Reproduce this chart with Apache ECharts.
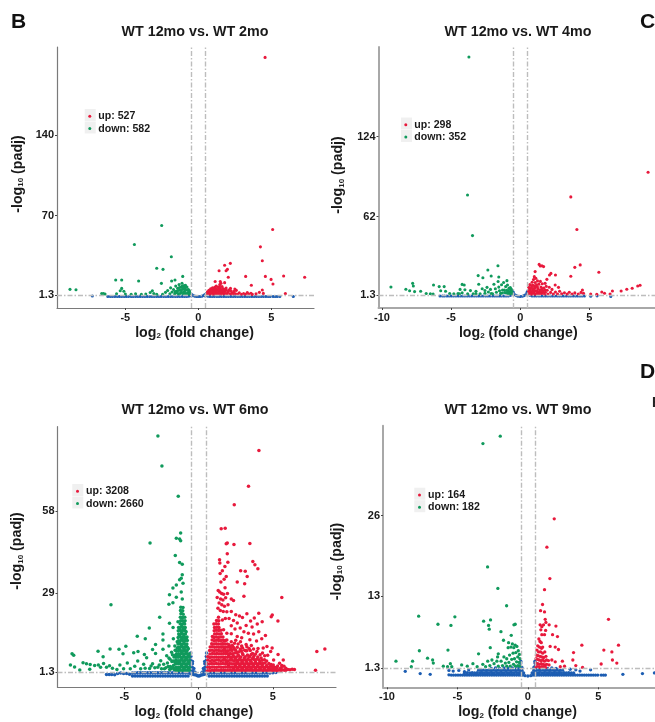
<!DOCTYPE html>
<html><head><meta charset="utf-8">
<style>html,body{margin:0;padding:0;background:#fff}#c{width:655px;height:722px}</style>
<script src="https://cdn.jsdelivr.net/npm/echarts@6/dist/echarts.min.js"></script>
</head><body><div id="c"></div>
<script>
// Panel titles, tick labels and legend counts
const titles = ['WT 12mo vs. WT 2mo','WT 12mo vs. WT 4mo','WT 12mo vs. WT 6mo','WT 12mo vs. WT 9mo'];
const yTicksB = [1.3,70,140], yTicksC = [1.3,62,124], yTicksD = [1.3,29,58], yTicksE = [1.3,13,26];
const xTicksB = [-5,0,5], xTicksC = [-10,-5,0,5], xTicksD = [-5,0,5], xTicksE = [-10,-5,0,5];
const legendB = ['up: 527','down: 582'], legendC = ['up: 298','down: 352'], legendD = ['up: 3208','down: 2660'], legendE = ['up: 164','down: 182'];
const foldCut = [-0.5,0.5], padjCut = 1.3;

// Panel B
const bUp = [[4.57,207],[5.09,58],[4.25,43],[4.38,31],[2.19,28.7],[1.8,27],[1.99,23.5],[1.9,22.3],[1.42,22.3],[3.24,17.4],[4.59,17.4],[4.98,14.8],[5.84,17.7],[7.28,16.6],[5.11,10.8],[3.63,9.7],[2.05,16.6],[5.96,2.5],[4.38,5.6],[4.18,3.6],[4.45,2.7],[1.15,13],[1.5,13],[1.55,11.5],[1.8,12],[.6,2.1],[.68,3.4],[.75,1.9],[.8,4.6],[.86,2.8],[.92,5.7],[.95,1.8],[1,3.7],[1.02,6.6],[1.08,2.4],[1.12,7.9],[1.15,4.9],[1.2,1.9],[1.22,9.1],[1.27,3.3],[1.3,6.1],[1.35,8.2],[1.38,2.2],[1.42,4.4],[1.47,10.3],[1.5,6.9],[1.53,2.9],[1.58,5.3],[1.62,8.6],[1.66,1.9],[1.7,3.9],[1.75,6.2],[1.8,2.6],[1.84,4.8],[1.9,7.4],[1.95,2.1],[2,3.5],[2.08,5.6],[2.15,2.3],[2.2,7],[2.3,3.2],[2.35,1.9],[2.45,4.4],[2.55,2.4],[2.6,5.3],[2.7,1.9],[2.8,3.3],[2.95,2],[3.1,2.5],[3.25,1.9],[3.35,3.4],[3.45,2.1],[3.6,2.8],[3.7,1.8],[3.95,2.3],
[.62,4],[.72,5.4],[.78,2.6],[.84,6.6],[.9,3.8],[.97,7.5],[1.05,4.7],[1.1,6],[1.13,3.5],[1.18,7.2],[1.25,5],[1.32,2.8],[1.4,6.3],[1.45,8.4],[1.55,4.2],[1.6,2.2],[1.68,6.9],[1.72,5],[1.78,3.4],[1.88,5.8],[2.05,4.6],[2.25,4.8],[2.4,2.8],[2.5,6.4]];
const bDown = [[-2.51,61.5],[-4.38,45],[-1.85,34.4],[-2.85,24.4],[-2.42,23.5],[-1.07,17.4],[-5.66,14.3],[-5.25,14.3],[-4.09,13.4],[-1.6,14.3],[-1.83,13.4],[-2.53,11.4],[-5.25,7],[-5.35,5],[-5.6,2.4],[-5.1,4.6],[-5,2.2],[-8.79,6.2],[-8.38,5.9],[-6.62,2.5],[-6.39,2.2],[-6.5,2.6],[-4.6,2],[-4.3,2.4],[-3.9,1.9],[-3.6,2.2],[-3.3,3.5],[-3.15,5],[-3.05,2.5],[-2.85,2],[-2.45,1.9],[-2.25,3.6],[-2.1,5.2],[-1.95,2.4],[-1.9,7.5],[-1.8,3.9],[-1.7,6.1],[-1.62,2.1],[-1.55,9],[-1.5,4.6],[-1.42,7.1],[-1.38,2.3],[-1.32,10.3],[-1.28,5.4],[-1.22,3],[-1.18,8.1],[-1.12,11.5],[-1.08,6.2],[-1.02,2.1],[-.98,9.4],[-.95,4.2],[-.9,7.5],[-.85,2.6],[-.82,5.6],[-.78,8.2],[-.72,3.5],[-.68,6],[-.64,2],[-.6,4.1],[-.57,2.6],
[-1.6,4.2],[-1.45,3.2],[-1.4,5.2],[-1.3,7.8],[-1.25,2.2],[-1.2,5.6],[-1.15,3.8],[-1.1,9],[-1.05,7.6],[-1,3.2],[-.92,5.8],[-.88,9.6],[-.75,5.8],[-.7,2.6],[-.62,5.2]];
const bNs = [[-7.26,.4],[6.5,0],[-6.2,0],[-6.03,0],[-5.88,0],[-5.72,0],[-5.55,0],[-5.4,0],[-5.25,0],[-5.08,0],[-4.93,0],[-4.78,0],[-4.6,0],[-4.46,0],[-4.3,0],[-4.14,0],[-3.98,0],[-3.82,0],[-3.66,0],[-3.5,0],[-3.34,0],[-3.18,0],[-3.02,0],[-2.86,0],[-2.7,0],[-2.55,0],[-2.38,0],[-2.22,0],[-2.06,0],[-1.9,0],[-1.75,0],[-1.58,0],[-1.43,0],[-1.27,0],[-1.1,0],[-.95,0],[-.8,0],[-.66,.3],[-.55,1.2],[-.48,.5],[-.56,2.6],[-.44,1.7],[-.36,.9],[-.25,.3],[-.12,0],[0,0],[.12,0],[.25,.3],[.36,.9],[.44,1.7],[.55,2.7],[.47,.5],[.56,1.2],[.66,.3],[.8,0],[.95,0],[1.1,0],[1.27,0],[1.42,0],[1.58,0],[1.74,0],[1.9,0],[2.06,0],[2.22,0],[2.38,0],[2.54,0],[2.7,0],[2.86,0],[3.02,0],[3.18,0],[3.34,0],[3.5,0],[3.66,0],[3.82,0],[3.98,0],[4.14,0],[4.3,0],[4.46,0],[4.62,0],[4.78,0],[4.92,0],[5.12,0],[5.26,0],[5.4,0],[5.58,0]];

// Panel C
const cUp = [[9.25,96.4],[3.66,77.3],[4.1,52],[4.34,24.6],[3.95,22.7],[5.69,18.9],[3.66,15.8],[1.37,25],[1.57,24],[1.69,23.3],[1.45,23.8],[2.22,18],[2.55,16.8],[2.12,16.8],[1.08,19.4],[1.93,13.4],[1.8,10.3],[2.53,9],[2.77,7.2],[8.67,8.8],[8.5,8.3],[8.1,6.5],[7.71,5.7],[7.3,4.4],[6.67,4.4],[6.5,2.1],[6.1,2.6],[5.9,3.6],[5.54,1.8],[5.1,2.1],[4.5,5.2],[4.58,2.6],[.57,2],[.6,4.6],[.62,7.2],[.66,2.8],[.7,9.3],[.72,5.4],[.76,1.9],[.8,3.5],[.82,7.5],[.86,11.2],[.9,5],[.93,1.9],[.96,13.2],[.98,8.6],[1,3.1],[1.02,15.5],[1.05,6.5],[1.08,11],[1.1,1.9],[1.13,14.2],[1.15,4.3],[1.18,9.2],[1.22,2.5],[1.25,12.2],[1.28,6.2],[1.32,3.4],[1.35,9.7],[1.4,1.9],[1.42,5.2],[1.46,11.8],[1.5,7.4],[1.55,2.5],[1.6,10],[1.63,4.5],[1.7,6.6],[1.75,1.9],[1.82,3.4],[1.88,8],[1.95,5],[2,2.1],[2.1,7.3],[2.2,3.3],[2.3,5.6],[2.4,2],[2.55,3.6],[2.7,2.1],[2.85,4.2],[3,2.2],[3.2,3],[3.4,2],[3.55,3.4],[3.75,2.1],[3.95,2.9],[4.2,2],[4.4,3.3],
[.64,3.6],[.68,5.6],[.74,3.2],[.78,6.6],[.84,2.4],[.88,8.8],[.92,3.6],[.95,6.2],[1.03,4.7],[1.1,7.8],[1.2,4.4],[1.24,7.6],[1.3,2.4],[1.38,4],[1.45,2.8],[1.52,4.6],[1.58,6.2],[1.68,3.4],[1.8,5.2]];
const cDown = [[-3.71,185.8],[-3.81,78.8],[-3.45,47.3],[-1.61,24],[-2.34,20.7],[-2.1,16],[-1.55,15.2],[-3.04,16.3],[-2.7,14.7],[-.96,12.4],[-9.35,7.5],[-7.78,10.3],[-7.73,8.3],[-8.27,5.7],[-8,4.6],[-7.64,3.9],[-7.2,4.2],[-6.8,2.4],[-6.5,2.2],[-6.27,9],[-6.3,2.1],[-5.86,7.8],[-5.5,7.8],[-5.75,4.6],[-5.4,4.2],[-5.1,2.4],[-4.8,2.2],[-4.5,2.4],[-4.35,5.6],[-4.2,9.5],[-4.05,9],[-4,5.3],[-3.8,2.3],[-3.6,4.7],[-3.4,2.2],[-3,9.6],[-3.2,4.1],[-2.9,2.2],[-2.75,6.1],[-2.55,2.6],[-2.4,7.2],[-2.3,3.6],[-2.15,5.6],[-2,2.2],[-1.9,9.6],[-1.8,6.1],[-1.72,3.4],[-1.6,11.7],[-1.55,7.4],[-1.42,2.5],[-1.35,9.2],[-1.28,5.2],[-1.2,11],[-1.12,3.2],[-1.05,7.8],[-.98,5],[-.92,9],[-.88,2.5],[-.82,6.4],[-.75,3.6],[-.7,5.2],[-.63,2.2],[-.6,4],
[-1.15,5.2],[-1.02,3],[-.9,4.4],[-.8,2.2],[-.72,7],[-.65,5.8],[-1.3,2.8],[-1.5,4.6],[-2.1,2.4],[-2.55,4.8],[-3.2,2.2],[-4.2,3],[-4.4,2.3]];
const cNs = [[6.55,.2],[5.1,.4],[5.56,.6],[-5.8,.5],[-5.62,.5],[-5.48,.5],[-5.3,.5],[-5.14,.5],[-4.98,.5],[-4.82,.5],[-4.65,.5],[-4.48,.5],[-4.32,.5],[-4.16,.5],[-4,.5],[-3.83,.5],[-3.66,.5],[-3.5,.5],[-3.33,.5],[-3.16,.5],[-3,.5],[-2.84,.5],[-2.68,.5],[-2.5,.5],[-2.34,.5],[-2.18,.5],[-2,.5],[-1.84,.5],[-1.68,.5],[-1.52,.5],[-1.36,.5],[-1.18,.5],[-1.02,.5],[-.86,.5],[-.7,1],[-.58,5],[-.58,2.5],[-.5,3.5],[-.46,1.6],[-.38,1.5],[-.28,.8],[-.16,.3],[0,.1],[.16,.3],[.28,.8],[.38,1.5],[.46,1.6],[.5,3.5],[.58,5],[.58,2.5],[.7,1],[.86,.5],[1.02,.5],[1.18,.5],[1.36,.5],[1.52,.5],[1.68,.5],[1.84,.5],[2,.5],[2.18,.5],[2.34,.5],[2.5,.5],[2.68,.5],[2.84,.5],[3,.5],[3.16,.5],[3.33,.5],[3.5,.5],[3.66,.5],[3.83,.5],[4,.5],[4.16,.5],[4.32,.5],[4.48,.5],[4.65,.5]];

// Panel D
const dUp = [[4.06,79.4],[3.36,66.8],[2.4,60.3],[1.52,51.8],[1.79,52],[1.93,46.8],[1.86,46.5],[2.38,46.3],[3.45,46.6],[1.93,43],[1.41,40.9],[1.43,39.7],[1.97,40],[1.77,38.5],[3.65,40.3],[3.79,39.1],[3.99,37.7],[2.83,37],[3.14,36.8],[3.27,35],[2.6,33],[3.1,32.4],[1.86,35],[5.6,27.6],[3.05,28],[4.96,21.4],[4.89,20.8],[5.34,19.3],[8.5,9.4],[7.96,8.5],[7.87,1.9],[1.45,36],[1.6,37],[1.5,33],[1.72,34],[1.78,31],[1.32,30],[1.42,29.5],[1.55,29],[1.68,28.7],[1.25,27.6],[1.48,27],[1.64,26.7],[1.82,27.5],[1.94,29],[2.2,27],[2.35,26.5],[1.38,25.6],[1.56,25],[1.74,24.5],[1.98,25],[2.2,22.6],[2.5,21.5],[2.75,21],[1.3,23.8],[1.46,23],[1.66,22.6],[1.9,22.5],[2.35,19.5],[2.6,18.6],[2.95,20.5],[3.25,21.8],[3.5,19.3],[3.75,20.3],[4.05,22],[4.28,19],[3.95,18.2],[3.6,17.2],[3.2,17.7],[2.8,16.8],[2.05,20.2],[1.8,20.2],[1.6,19.6],[2.2,17.6],[2.45,16.5],[3.05,15.5],[3.35,15],[3.7,14.7],[4.05,15.5],[4.5,14.2],[4.25,13],[3.9,12.2],[3.45,12.7],[2.9,13.4],[2.6,13.8],[2.2,14.8],[1.9,15],[1.68,16.2],[4.95,9.8],[4.85,8.5],[5.35,7.5],[5.7,5.5],[5.45,4.4],[5.05,5.5],[4.6,10.3],[4.35,9.8],[4.65,7.2],
[.58,1.8],[.6,3],[.57,4.2],[.61,5.5],[.6,6.8],[.74,1.7],[.76,2.9],[.73,4.1],[.77,5.2],[.75,6.4],[.76,7.6],[.74,8.9],[.78,10.1],[.9,1.9],[.92,3.1],[.88,4.3],[.91,5.4],[.89,6.6],[.93,7.8],[.9,9],[.92,10.2],[.88,11.3],[.91,12.6],[.93,13.8],[1.05,1.8],[1.07,3],[1.03,4.2],[1.06,5.3],[1.04,6.5],[1.08,7.7],[1.05,8.8],[1.07,10],[1.03,11.2],[1.06,12.3],[1.04,13.5],[1.08,14.7],[1.05,15.8],[1.07,17],[1.03,18.2],[1.2,1.9],[1.22,3],[1.18,4.3],[1.21,5.5],[1.19,6.6],[1.23,7.8],[1.2,9],[1.22,10.1],[1.18,11.3],[1.21,12.5],[1.19,13.6],[1.23,14.8],[1.2,16],[1.22,17.1],[1.18,18.3],[1.21,19.5],[1.35,1.8],[1.37,3.1],[1.33,4.2],[1.36,5.4],[1.34,6.5],[1.38,7.7],[1.35,8.9],[1.37,10],[1.33,11.2],[1.36,12.4],[1.34,13.5],[1.38,14.7],[1.35,15.9],[1.37,17],[1.33,18.2],[1.36,19.4],[1.34,20.6],[1.5,1.9],[1.52,3],[1.48,4.2],[1.51,5.3],[1.49,6.5],[1.53,7.7],[1.5,8.8],[1.52,10],[1.48,11.2],[1.51,12.4],[1.49,13.6],[1.53,14.8],[1.5,16],[1.65,1.8],[1.67,3],[1.63,4.3],[1.66,5.4],[1.64,6.6],[1.68,7.8],[1.65,8.9],[1.67,10.1],[1.63,11.3],[1.66,12.5],[1.64,13.6],[1.8,1.9],[1.82,3.1],[1.78,4.2],[1.81,5.4],[1.79,6.5],[1.83,7.7],[1.8,8.9],[1.82,10],[1.78,11.2],[1.81,12.4],[1.95,1.8],[1.97,3],[1.93,4.2],[1.96,5.3],[1.94,6.5],[1.98,7.7],[1.95,8.8],[1.97,10],[1.93,11.2],[2.1,1.9],[2.12,3],[2.08,4.3],[2.11,5.4],[2.09,6.6],[2.13,7.8],[2.1,9],[2.12,10.2],[2.25,1.8],[2.27,3.1],[2.23,4.2],[2.26,5.4],[2.24,6.5],[2.28,7.7],[2.25,8.9],[2.27,10.6],[2.4,1.9],[2.42,3],[2.38,4.2],[2.41,5.3],[2.39,6.6],[2.43,8],[2.4,9.5],[2.42,11.4],[2.55,1.8],[2.57,3],[2.53,4.3],[2.56,5.4],[2.54,6.6],[2.58,8.2],[2.6,10],[2.7,1.9],[2.72,3.1],[2.68,4.2],[2.71,5.6],[2.69,7],[2.73,8.4],[2.85,1.8],[2.87,3],[2.83,4.2],[2.86,5.4],[2.84,6.6],[2.88,8.7],[2.9,10.5],[3,1.9],[3.02,3],[2.98,4.3],[3.01,5.5],[2.99,7.4],[3.15,1.8],[3.17,3.1],[3.13,4.2],[3.16,5.4],[3.14,6.7],[3.18,8.8],[3.2,11],[3.3,1.9],[3.32,3],[3.28,4.3],[3.31,5.8],[3.29,7.3],[3.45,1.8],[3.47,3],[3.43,4.2],[3.46,5.4],[3.44,6.8],[3.48,8.9],[3.6,1.9],[3.62,3.1],[3.58,4.3],[3.61,6],[3.63,7.8],[3.75,1.8],[3.77,3],[3.73,4.2],[3.76,5.6],[3.74,7],[3.9,1.9],[3.92,3.1],[3.88,4.3],[3.91,5.8],[3.93,8.5],[4.05,1.8],[4.07,3],[4.03,4.2],[4.06,5.6],[4.2,1.9],[4.22,3],[4.18,4.3],[4.21,6.2],[4.35,1.8],[4.37,3],[4.33,4.3],[4.5,1.9],[4.52,3.1],[4.48,4.5],[4.65,1.8],[4.67,3],[4.8,1.9],[4.82,3.2],[4.95,1.8],[4.97,3],[5.1,1.9],[5.12,3],[5.25,1.8],[5.27,2.8],[5.4,1.9],[5.55,1.8],[5.57,2.8],[5.7,2],[5.85,1.8],[5.87,2.6],[6,2.2],[6.15,2.1],[6.3,2.3],[6.45,2.2],[5,2.6],[5.6,3.6],[5.75,3.3],
[1.58,11.2],[1.72,6.2],[1.72,9.4],[1.74,12.2],[1.88,4.8],[1.87,8.3],[1.9,12.6],[2.02,3.6],[2.03,7],[2.05,10.9],[2.18,5.9],[2.17,9.6],[2.2,12],[2.33,2.4],[2.33,7],[2.34,10],[2.48,3.6],[2.47,6],[2.5,9],[2.5,12.5],[2.63,2.4],[2.64,4.9],[2.65,7.4],[2.66,11.2],[2.78,3.6],[2.78,6.3],[2.8,9.4],[2.82,12],[2.93,2.5],[2.94,4.9],[2.95,7.8],[2.96,9.8],[3.08,3.6],[3.08,6.2],[3.1,9],[3.24,2.5],[3.24,4.9],[3.25,8.8],[3.25,10.2],[3.38,3.6],[3.38,6.6],[3.4,9.6],[3.53,2.5],[3.53,5.1],[3.54,7.5],[3.55,10.6],[3.68,3.6],[3.68,6.4],[3.7,9.4],[3.83,2.4],[3.83,4.9],[3.84,7.6],[3.98,3.6],[3.98,6.6],[4,9.6],[4.13,2.5],[4.13,5],[4.14,7.4],[4.28,3.6],[4.28,5.4],[4.3,8],[4.43,2.4],[4.43,5.6],[4.45,7],[4.58,3.6],[4.58,5.2],[4.72,2.5],[4.73,4.3],[4.88,2.6],[4.88,3.9],[5.03,3.8],[5.18,2.6],[5.32,3.4],[5.48,2.5]];
const dDown = [[-2.74,84.5],[-2.47,73.9],[-1.37,63.3],[-1.21,50.3],[-1.5,48.5],[-1.28,48.2],[-1.21,47.6],[-3.27,46.8],[-1.57,42.4],[-1.28,39.9],[-1.1,39.3],[-1.1,35.6],[-1.17,34.4],[-1.28,33.8],[-1.05,32.6],[-1.5,32],[-1.73,30.9],[-1.96,28.5],[-1.17,29.5],[-1.5,27.7],[-1.1,27],[-1.73,25.7],[-2,25.2],[-5.9,25],[-2.62,20.6],[-1.96,18.5],[-1.39,19],[-3.32,16.8],[-4.13,13.9],[-3.59,13],[-2.4,14.7],[-2.4,12.6],[-1.72,17],[-4.9,10.4],[-6.77,8.6],[-5.96,9.4],[-5.36,9.3],[-5.09,7.7],[-4.37,8.1],[-4.08,8.5],[-6.43,6.7],[-8.52,7.7],[-8.41,7.2],[-8.63,3.8],[-7.78,4.6],[-8,2],[-7.33,2.3],[-8.35,3.1],[-7.55,4.2],[-7.3,3.9],[-7,3.6],[-6.75,3.8],[-6.6,3],[-6.4,4.3],[-6.2,3],[-6,3.5],[-5.8,2.6],[-5.5,2.2],[-5.3,3.8],[-5.05,2.4],[-4.8,4.5],[-4.6,2.4],[-4.3,3.3],[-4.1,5.2],[-3.9,2.4],[-3.7,4],[-3.5,6.3],[-3.3,2.5],[-3.1,4.2],[-2.9,7.8],[-2.75,3],[-2.55,5.3],[-2.4,9.3],[-2.3,2.4],[-2.1,4.5],[-2.15,7],[-2,10.5],[-2.9,11],[-3.1,9.2],[-3.65,7.5],[-1.85,2.4],[-1.8,5],[-1.82,8.3],[-1.7,13],[-1.65,2.2],[-1.68,3.7],[-1.63,5.2],[-1.66,6.6],[-1.6,10.5],[-1.52,1.9],[-1.5,3],[-1.54,4.2],[-1.51,5.4],[-1.53,6.5],[-1.49,7.7],[-1.52,8.9],[-1.37,1.8],[-1.35,3],[-1.39,4.2],[-1.36,5.3],[-1.38,6.5],[-1.34,7.7],[-1.37,8.8],[-1.35,10],[-1.39,11.2],[-1.36,12.3],[-1.38,13.5],[-1.34,14.7],[-1.37,15.8],[-1.35,17],[-1.22,1.9],[-1.2,3.1],[-1.24,4.2],[-1.21,5.4],[-1.23,6.6],[-1.19,7.7],[-1.22,8.9],[-1.2,10.1],[-1.24,11.2],[-1.21,12.4],[-1.23,13.6],[-1.19,14.7],[-1.22,15.9],[-1.2,17.1],[-1.24,18.3],[-1.21,19.4],[-1.23,20.6],[-1.19,21.8],[-1.22,23],[-1.2,24.1],[-1.07,1.8],[-1.05,3],[-1.09,4.2],[-1.06,5.3],[-1.08,6.5],[-1.04,7.7],[-1.07,8.8],[-1.05,10],[-1.09,11.2],[-1.06,12.4],[-1.08,13.5],[-1.04,14.7],[-1.07,15.9],[-1.05,17],[-1.09,18.2],[-1.06,19.4],[-1.08,20.5],[-1.04,21.7],[-1.07,22.9],[-1.05,24],[-.92,1.9],[-.9,3],[-.94,4.2],[-.91,5.4],[-.93,6.5],[-.89,7.7],[-.92,8.9],[-.9,10],[-.94,11.2],[-.91,12.4],[-.93,13.5],[-.89,14.7],[-.92,15.9],[-.9,17],[-.94,18.2],[-.91,19.4],[-.93,20.6],[-.77,1.8],[-.75,3.1],[-.79,4.2],[-.76,5.4],[-.78,6.5],[-.74,7.7],[-.77,8.9],[-.75,10],[-.79,11.2],[-.76,12.4],[-.78,13.6],[-.63,1.9],[-.61,3],[-.65,4.2],[-.62,5.3],[-.64,6.5],[-.6,7.6],
[-1.29,2.5],[-1.28,4.8],[-1.3,7.2],[-1.29,9.5],[-1.3,11.8],[-1.29,14.2],[-1.28,16.5],[-1.14,3.6],[-1.13,6],[-1.15,8.4],[-1.14,10.8],[-1.13,13.2],[-1.15,15.5],[-1.14,18],[-1.13,20.3],[-1.15,22.6],[-.99,2.5],[-.98,5],[-1,7.3],[-.99,9.6],[-.98,12],[-1,14.3],[-.99,16.6],[-.98,19],[-.84,3.6],[-.83,6],[-.85,8.4],[-.84,10.7],[-.83,13],[-.84,15.5],[-.69,2.5],[-.68,4.9],[-.7,7.2],[-.69,9.5],[-1.44,2.5],[-1.43,4.8],[-1.45,7.2],[-1.44,9.8],[-1.44,12],[-1.58,2.5],[-1.58,4.7],[-1.57,7.2],[-1.58,9],[-1.72,2.9],[-1.74,5.2],[-1.76,7.4],[-1.9,3.2],[-1.92,5.8],[-1.95,2.2],[-2.05,3.2],[-2,6.2],[-2.2,2.8],[-2.35,4],[-2.5,2.4],[-2.65,3.8],[-2.95,2.8],[-3.2,3.4],[-3.6,2.6]];
const dNs = [[-6.2,.4],[-6.02,.4],[-5.85,.4],[-5.65,.3],[-5.45,.8],[-5.25,.9],[-5.05,.8],[-4.85,.8],[-4.65,.5],[-4.45,.9],[-4.45,-.1],[-4.28,.9],[-4.28,-.1],[-4.11,1],[-4.11,-.1],[-3.94,1],[-3.94,-.1],[-3.77,1],[-3.77,-.1],[-3.6,1],[-3.6,-.1],[-3.43,1],[-3.43,-.1],[-3.26,1],[-3.26,-.1],[-3.09,1],[-3.09,-.1],[-2.92,1],[-2.92,-.1],[-2.75,1],[-2.75,-.1],[-2.58,1],[-2.58,-.1],[-2.41,1],[-2.41,-.1],[-2.24,1],[-2.24,-.1],[-2.07,1],[-2.07,-.1],[-1.9,1],[-1.9,-.1],[-1.73,1],[-1.73,-.1],[-1.56,1],[-1.56,-.1],[-1.39,1],[-1.39,-.1],[-1.22,1],[-1.22,-.1],[-1.05,1],[-1.05,-.1],[-.88,1],[-.88,-.1],[-.71,1],[-.71,-.1],[-.55,.8],[-.54,2],[-.55,3.2],[-.53,4.4],[-.54,5.6],[-.52,6.8],[-.53,8],[-.44,.6],[-.44,1.8],[-.43,3],[-.42,4.2],[-.41,5],[-.34,.4],[-.33,1.4],[-.32,2.5],[-.25,.3],[-.24,1.2],[-.16,.2],[-.08,0],[0,-.1],[.08,0],[.16,.2],[.25,.3],[.24,1.2],[.34,.4],[.33,1.4],[.32,2.5],[.44,.6],[.44,1.8],[.43,3],[.42,4.2],[.41,5],[.55,.8],[.54,2],[.55,3.2],[.53,4.4],[.54,5.6],[.52,6.8],[.53,8],[.71,1],[.71,-.1],[.88,1],[.88,-.1],[1.05,1],[1.05,-.1],[1.22,1],[1.22,-.1],[1.39,1],[1.39,-.1],[1.56,1],[1.56,-.1],[1.73,1],[1.73,-.1],[1.9,1],[1.9,-.1],[2.07,1],[2.07,-.1],[2.24,1],[2.24,-.1],[2.41,1],[2.41,-.1],[2.58,1],[2.58,-.1],[2.75,1],[2.75,-.1],[2.92,1],[2.92,-.1],[3.09,1],[3.09,-.1],[3.26,1],[3.26,-.1],[3.43,1],[3.43,-.1],[3.6,1],[3.6,-.1],[3.77,1],[3.77,-.1],[3.94,1],[3.94,-.1],[4.11,1],[4.11,-.1],[4.28,1],[4.28,-.1],[4.45,1],[4.45,-.1],[4.62,1],[4.62,-.1],[4.8,.9],[5,1],[5.2,1.1]];

// Panel E
const eUp = [[1.87,25.5],[1.35,20.9],[1.56,15.8],[1.18,14],[1.04,11.6],[.9,10.6],[1.18,10.4],[5.72,9.2],[1.23,9.2],[1.28,8.7],[.87,8.3],[1.11,8.3],[1.51,8.3],[1.99,8.1],[.99,8],[2.1,6.4],[1.75,6.7],[1.18,6.7],[.99,6.7],[1.26,7.4],[.92,7.5],[3.83,5],[6.43,5],[5.39,4.2],[5.96,3.9],[3.24,3.8],[3.19,2.6],[6,2.6],[6.31,2.1],[5.2,1.95],[3.4,1.7],[3.88,1.4],[1.58,4.8],[1.94,4.7],[2.17,4.3],[1.7,2.6],[1.94,2.3],[2.45,2.4],[2.3,1.5],[2.6,1.6],[.78,6],[.86,5.6],[.95,5.4],[.7,4.9],[.82,4.7],[.97,4.5],[1.05,4.7],[.64,4.2],[.76,3.9],[.9,3.9],[1.05,3.7],[1.2,3.9],[.6,3.4],[.72,3.3],[.86,3.2],[.98,3.1],[1.12,3],[1.28,3.2],[.58,2.8],[.68,2.7],[.8,2.6],[.93,2.5],[1.05,2.6],[1.18,2.4],[1.32,2.6],[1.46,2.5],[.58,2.1],[.7,2],[.82,1.9],[.95,2],[1.08,1.9],[1.2,1.8],[1.33,1.9],[1.5,1.8],[.58,1.5],[.7,1.5],[.84,1.4],[.98,1.5],[1.12,1.4],[1.25,1.4]];
const eDown = [[-1.96,38.9],[-3.19,37.7],[-2.86,17.7],[-2.13,14.2],[-1.51,11.4],[-7.75,9.7],[-5.18,9.6],[-6.38,8.4],[-5.46,8.2],[-3.14,8.9],[-2.65,9.1],[-2.79,8.2],[-2.74,7.6],[-1.91,7.2],[-.99,8.3],[-.9,8.4],[-1.18,6.6],[-1.73,5.8],[-1.37,5.4],[-5.67,4.2],[-7.7,4.1],[-7.12,2.9],[-6.76,2.6],[-6.71,2.1],[-8.18,2.4],[-9.36,2.4],[-8.27,1.5],[-3.5,3.6],[-2.67,4.6],[-6,1.6],[-5.7,1.5],[-5.5,2],[-5.4,1.5],[-4.7,1.8],[-4.3,1.6],[-3.9,2],[-3.6,1.5],[-3.2,1.9],[-3,1.5],[-2.85,2.4],[-2.7,1.7],[-2.55,2.6],[-2.4,2],[-2.2,2.4],[-2.1,1.6],[-2.1,3.6],[-2.15,3.1],[-1.9,2.4],[-1.8,1.7],[-1.7,3.1],[-1.6,2.1],[-1.5,1.6],[-1.5,2.8],[-1.4,4.6],[-1.3,3.4],[-1.35,2.2],[-1.25,1.6],[-1.2,4.7],[-1.15,2.7],[-1.1,5.2],[-1.05,3.7],[-1.02,1.9],[-1,4.6],[-.95,2.8],[-.9,5],[-.88,1.6],[-.85,3.8],[-.8,2.3],[-.78,4.8],[-.72,3.1],[-.7,1.7],[-.68,4.1],[-.62,2.2],[-.6,3.5],[-.58,1.6],[-.57,2.8]];
const eNs = [[-8.7,.76],[-7.64,.4],[-6.93,.27],[6.74,.27],[8.13,.4],[8.98,.5],[-5.6,.9],[-5.3,.8],[-4.9,.9],[-4.5,.7],[-4.2,1],[4.45,1],[3.7,.8],[3.4,1],[3,1.1],[-5.6,.2],[-5.44,.15],[-5.28,.15],[-5.12,.15],[-4.96,.15],[-4.8,.15],[-4.64,.15],[-4.48,.15],[-4.32,.15],[-4.16,.15],[-4,.15],[-3.84,.15],[-3.68,.15],[-3.52,.15],[-3.36,.15],[-3.2,.15],[-3.04,.15],[-2.88,.15],[-2.72,.15],[-2.56,.15],[-2.4,.15],[-2.24,.15],[-2.08,.15],[-1.92,.15],[-1.76,.15],[-1.6,.15],[-1.44,.15],[-1.28,.15],[-1.12,.15],[-.96,.15],[-.8,.15],[-.64,.15],[-.5,.15],[-.36,.15],[-.2,.05],[0,0],[.2,.05],[.36,.15],[.5,.15],[.64,.15],[.8,.15],[.96,.15],[1.12,.15],[1.28,.15],[1.44,.15],[1.6,.15],[1.76,.15],[1.92,.15],[2.08,.15],[2.24,.15],[2.4,.15],[2.56,.15],[2.72,.15],[2.88,.15],[3.04,.15],[3.2,.15],[3.36,.15],[3.52,.15],[3.68,.15],[3.84,.15],[4,.15],[4.16,.15],[4.32,.15],[4.48,.15],[4.64,.15],[4.8,.15],[4.96,.15],[5.2,.15],[5.36,.15],[5.5,.15],[-4.5,.5],[-4.3,.55],[-4.12,.5],[-3.95,.55],[-3.78,.5],[-3.6,.55],[-3.42,.5],[-3.25,.55],[-3.08,.5],[-2.9,.55],[-2.73,.5],[-2.56,.55],[-2.38,.5],[-2.2,.55],[-2.03,.5],[-1.86,.55],[-1.68,.5],[-1.5,.55],[-1.33,.5],[-1.16,.55],[-.98,.5],[-.8,.55],[-.63,.5],[-.48,.55],[-.36,.5],[.36,.5],[.48,.55],[.63,.5],[.8,.55],[.98,.5],[1.16,.55],[1.33,.5],[1.5,.55],[1.68,.5],[1.86,.55],[2.03,.5],[2.2,.55],[2.38,.5],[2.56,.55],[2.73,.5],[2.9,.55],[3.08,.5],[3.25,.5],[-3.5,.95],[-3.33,.9],[-3.16,.95],[-2.98,.9],[-2.8,.95],[-2.63,.9],[-2.46,.95],[-2.28,.9],[-2.1,.95],[-1.93,.9],[-1.76,.95],[-1.58,.9],[-1.4,.95],[-1.23,.9],[-1.06,.95],[-.88,.9],[-.7,.95],[-.55,.9],[-.42,.95],[.42,.95],[.55,.9],[.7,.95],[.88,.9],[1.06,.95],[1.23,.9],[1.4,.95],[1.58,.9],[1.76,.95],[1.93,.9],[2.1,.95],[2.28,.9],[2.46,.95],[-2.6,1.25],[-2.3,1.3],[-2,1.25],[-1.7,1.3],[-1.4,1.25],[-1.1,1.3],[-.8,1.25],[-.6,1.3],[-.5,1.3],[-.53,1.7],[-.5,2.1],[-.5,2.4],[.5,1.3],[.53,1.7],[.5,2.1],[.5,2.4],[.6,1.3],[.8,1.25],[1.1,1.3],[1.4,1.25],[1.7,1.3],[2,1.25],[-.3,.5],[.3,.5],[-.42,1.4],[.42,1.4]];

const RED='#e8193c', GREEN='#109a5c', BLUE='#1c5db2';
const panels = [
 {title:titles[0],tx:195,ty:32,g:[57,47,257,261],x:[-9.68,7.92],y:[-9.96,216],xt:xTicksB,yt:yTicksB,up:bUp,down:bDown,ns:bNs,lg:legendB,lgPos:[88.3,110],rect:[84.7,109],line:'#7a7a7a',lw:1.2,xPad:[0,0,0,18],yPad:[0,0,0,7],yGap:32,dot:3.1},
 {title:titles[1],tx:518,ty:32,g:[378.5,47,276.5,261],x:[-10.25,9.75],y:[-8.8,193.5],xt:xTicksC,yt:yTicksC,up:cUp,down:cDown,ns:cNs,lg:legendC,lgPos:[404.3,118.5],rect:[401,117.5],line:'#a8a8a8',lw:2,xPad:[0,0,0,3],yPad:[0,0,0,5],yGap:33,dot:3.1},
 {title:titles[2],tx:195,ty:410,g:[57.5,426.7,278.5,260.6],x:[-9.5,9.25],y:[-4.1,87.8],xt:xTicksD,yt:yTicksD,up:dUp,down:dDown,ns:dNs,lg:legendD,lgPos:[76,485],rect:[72.3,484],line:'#7a7a7a',lw:1.2,xPad:[0,6,0,0],yPad:[0,0,0,12],yGap:33,dot:3.5},
 {title:titles[3],tx:518,ty:410.5,g:[383,425.7,272,261.6],x:[-10.28,9.02],y:[-1.83,40.6],xt:xTicksE,yt:yTicksE,up:eUp,down:eDown,ns:eNs,lg:legendE,lgPos:[418,488.7],rect:[414.3,487.7],line:'#a8a8a8',lw:2,xPad:[0,3,0,0],yPad:[0,10,0,0],yGap:39,dot:3.3}
];
const font='"Liberation Sans",Arial,sans-serif', ink='#1a1a1a';
const nameRich=(sz,sub)=>({a:{fontFamily:font,fontWeight:'bold',fontSize:sz,color:ink},b:{fontFamily:font,fontWeight:'bold',fontSize:8,color:ink,verticalAlign:'bottom',padding:[sub,0,0,0]}});
const option={animation:false,backgroundColor:'#fff',title:[],legend:[],grid:[],xAxis:[],yAxis:[],series:[],graphic:[]};
panels.forEach((p,i)=>{
 option.title.push({text:p.title,left:p.tx,top:p.ty-8,textAlign:'center',padding:0,textStyle:{fontFamily:font,fontWeight:'bold',fontSize:14.3,color:ink,lineHeight:16}});
 option.grid.push({left:p.g[0],top:p.g[1],width:p.g[2],height:p.g[3]});
 const line={show:true,onZero:false,lineStyle:{color:p.line,width:p.lw}};
 const tick={show:true,length:2,lineStyle:{color:'#444',width:1}};
 option.xAxis.push({type:'value',gridIndex:i,min:p.x[0],max:p.x[1],splitLine:{show:false},axisLine:line,
  axisTick:{...tick,customValues:p.xt},axisLabel:{customValues:p.xt,margin:4,fontFamily:font,fontWeight:'bold',fontSize:11,color:ink,formatter:v=>String(v)},
  name:'{a|log}{b|2}{a| (fold change)}',nameLocation:'middle',nameGap:18,nameTextStyle:{padding:p.xPad,rich:nameRich(14.2,5)}});
 option.yAxis.push({type:'value',gridIndex:i,min:p.y[0],max:p.y[1],splitLine:{show:false},axisLine:line,
  axisTick:{...tick,customValues:p.yt},axisLabel:{customValues:p.yt,margin:3,fontFamily:font,fontWeight:'bold',fontSize:11,color:ink,formatter:v=>String(v)},
  name:'{a|-log}{b|10}{a| (padj)}',nameLocation:'middle',nameGap:p.yGap,nameTextStyle:{padding:p.yPad,rich:nameRich(14.2,5)}});
 const ml={silent:true,symbol:'none',animation:false,label:{show:false},lineStyle:{color:'#bdbdbd',width:1.4,type:[5,2,1.5,2]},data:[{xAxis:foldCut[0]},{xAxis:foldCut[1]},{yAxis:padjCut}]};
 const st=c=>({color:c,opacity:1});
 option.series.push({type:'scatter',name:'ns'+i,xAxisIndex:i,yAxisIndex:i,symbolSize:p.dot,itemStyle:st(BLUE),data:p.ns,markLine:ml,silent:true});
 option.series.push({type:'scatter',name:p.lg[1],xAxisIndex:i,yAxisIndex:i,symbolSize:p.dot,itemStyle:st(GREEN),data:p.down,silent:true});
 option.series.push({type:'scatter',name:p.lg[0],xAxisIndex:i,yAxisIndex:i,symbolSize:p.dot,itemStyle:st(RED),data:p.up,silent:true});
 option.legend.push({left:p.lgPos[0],top:p.lgPos[1],orient:'vertical',padding:0,itemGap:0,itemWidth:3,itemHeight:3,icon:'circle',selectedMode:false,data:p.lg,textStyle:{fontFamily:font,fontWeight:'bold',fontSize:10.6,color:ink,lineHeight:12.4,padding:[0,0,0,2]}});
 [0,12.5].forEach(d=>option.graphic.push({type:'rect',z:-1,silent:true,shape:{x:p.rect[0],y:p.rect[1]+d,width:11,height:12},style:{fill:'#f0f0f0'}}));
});
[['B',11,12],['C',640,12],['D',640,362]].forEach(t=>option.graphic.push({type:'text',silent:true,style:{x:t[1],y:t[2],text:t[0],fontFamily:font,fontWeight:'bold',fontSize:21,fill:'#111'}}));
option.graphic.push({type:'text',silent:true,style:{x:652,y:396,text:'E',fontFamily:font,fontWeight:'bold',fontSize:14,fill:'#222'}});
echarts.init(document.getElementById('c'),null,{renderer:'canvas'}).setOption(option);
</script></body></html>
